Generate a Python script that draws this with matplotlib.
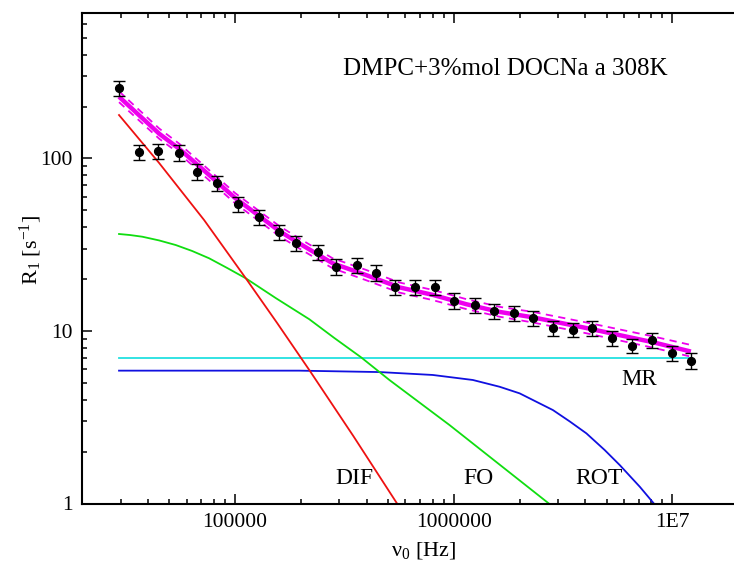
import matplotlib
matplotlib.use("Agg")
import matplotlib.pyplot as plt
from matplotlib.ticker import FixedLocator, FixedFormatter, LogLocator, NullFormatter

plt.rcParams['font.family'] = ['Liberation Serif', 'DejaVu Serif']
plt.rcParams['mathtext.fontset'] = 'custom'
plt.rcParams['mathtext.rm'] = 'Liberation Serif'
plt.rcParams['mathtext.it'] = 'Liberation Serif:italic'

# ---- data ----
freq = [29440, 36300, 44600, 55300, 67100, 83000, 103200, 128800, 157900, 189800,
        238400, 289000, 359800, 440800, 539000, 668000, 816800, 1.0e6, 1.245e6, 1.525e6,
        1.875e6, 2.3e6, 2.84e6, 3.49e6, 4.3e6, 5.31e6, 6.56e6, 8.07e6, 9.9e6, 1.21e7]
r1 = [257, 109.5, 110.6, 108, 83.9, 72.4, 54.5, 45.6, 37.6, 32.2,
      28.8, 23.6, 24.1, 21.8, 17.9, 18.07, 17.9, 15.0, 14.15, 13.1,
      12.7, 11.85, 10.45, 10.2, 10.37, 9.07, 8.22, 8.87, 7.48, 6.73]
r1_err = [26, 11, 11, 11, 8.5, 7.2, 5.5, 4.6, 3.8, 3.2,
          2.9, 2.4, 2.4, 2.2, 1.8, 1.8, 1.8, 1.5, 1.4, 1.3,
          1.3, 1.2, 1.05, 1.0, 1.05, 0.9, 0.8, 0.9, 0.75, 0.68]

fit_x = [29440, 45000, 55400, 70000, 100000, 159100, 196400, 279000, 396900, 564000,
         801000, 1.14e6, 1.62e6, 2.3e6, 4.04e6, 8.16e6, 1.214e7]
fit_y = [228, 139, 114, 88, 59, 38, 32.2, 24.7, 21.1, 17.9,
         16.2, 14.3, 12.9, 12.0, 10.4, 8.6, 7.6]
fit_hi = [245, 149, 122, 94, 63, 40.6, 34.4, 26.4, 22.6, 19.1,
          17.3, 15.3, 13.8, 12.9, 11.2, 9.3, 8.3]
fit_lo = [212, 130, 107, 82, 55, 35.5, 30.1, 23.1, 19.7, 16.7,
          15.1, 13.4, 12.1, 11.2, 9.7, 8.0, 7.1]

dif_x = [29440, 44900, 72100, 111900, 155800, 218300, 347200, 550000]
dif_y = [178.6, 94.2, 44.0, 20.2, 11.1, 5.94, 2.46, 1.0]

fo_x = [29440, 33040, 37620, 44900, 53500, 63560, 76000, 91900, 111900, 153600,
        218300, 284100, 376500, 507500, 955700, 2.72e6]
fo_y = [36.5, 36.0, 35.2, 33.5, 31.5, 29.1, 26.4, 23.2, 20.2, 15.5,
        11.7, 9.11, 7.04, 5.2, 2.85, 1.0]

rot_x = [29440, 196400, 456700, 801000, 1.222e6, 1.62e6, 2.0e6, 2.84e6, 3.39e6,
         4.04e6, 4.9e6, 5.74e6, 7.09e6, 8.22e6]
rot_y = [5.89, 5.89, 5.78, 5.56, 5.2, 4.75, 4.35, 3.48, 2.99,
         2.55, 2.04, 1.67, 1.25, 1.0]

mr_x = [29440, 1.21e7]
mr_y = [7.0, 7.0]

x_ticks = [1e5, 1e6, 1e7]
x_ticklabels = ['100000', '1000000', '1E7']
y_ticks = [1, 10, 100]
y_ticklabels = ['1', '10', '100']

# ---- figure ----
W, H = 734, 567
fig = plt.figure(figsize=(W / 100, H / 100), dpi=100)
ax = fig.add_axes([82.3 / W, (H - 503.5) / H, (738.3 - 82.3) / W, (503.5 - 12.7) / H])
ax.set_xscale('log')
ax.set_yscale('log')

ax.plot(mr_x, mr_y, color='#22e0e0', lw=1.3)
ax.plot(rot_x, rot_y, color='#1010e0', lw=1.3)
ax.plot(fo_x, fo_y, color='#10dd10', lw=1.3)
ax.plot(dif_x, dif_y, color='#ee1111', lw=1.3)
ax.plot(fit_x, fit_hi, color='#ee00ee', lw=1.3, ls=(0, (4, 3)))
ax.plot(fit_x, fit_lo, color='#ee00ee', lw=1.3, ls=(0, (4, 3)))
ax.plot(fit_x, fit_y, color='#ee00ee', lw=3.2, solid_capstyle='butt')
ax.errorbar(freq, r1, yerr=r1_err, fmt='o', color='black', ms=5.6,
            ecolor='black', elinewidth=1.0, capsize=4, capthick=1.0, zorder=5)

ax.set_xlim(2e4, 2e7)
ax.set_ylim(1, 700)

ax.xaxis.set_major_locator(FixedLocator(x_ticks))
ax.xaxis.set_major_formatter(FixedFormatter(x_ticklabels))
ax.xaxis.set_minor_locator(LogLocator(base=10, subs=range(2, 10), numticks=20))
ax.xaxis.set_minor_formatter(NullFormatter())
ax.yaxis.set_major_locator(FixedLocator(y_ticks))
ax.yaxis.set_major_formatter(FixedFormatter(y_ticklabels))
ax.yaxis.set_minor_locator(LogLocator(base=10, subs=range(2, 10), numticks=20))
ax.yaxis.set_minor_formatter(NullFormatter())

ax.tick_params(which='both', direction='in', top=True, right=False, width=1.1)
ax.tick_params(which='major', length=7.2, labelsize=15.5, pad=7)
ax.tick_params(which='minor', length=3.6)
for s in ax.spines.values():
    s.set_linewidth(1.5)

ax.set_xlabel(r'ν$_\mathregular{0}$ [Hz]', fontsize=16)
ax.xaxis.set_label_coords(0.521, -0.075)
ax.set_ylabel(r'R$_\mathregular{1}$ [s$^\mathregular{-1}$]', fontsize=16)
ax.yaxis.set_label_coords(-0.058, 0.516)

fig.text(668 / W, 1 - 75 / H, 'DMPC+3%mol DOCNa a 308K', fontsize=18, ha='right', va='baseline')
fig.text(335 / W, 1 - 484 / H, 'DIF', fontsize=17, va='baseline')
fig.text(463 / W, 1 - 484 / H, 'FO', fontsize=17, va='baseline')
fig.text(575 / W, 1 - 484 / H, 'ROT', fontsize=17, va='baseline')
fig.text(621.7 / W, 1 - 385 / H, 'MR', fontsize=16.5, va='baseline')

fig.savefig('out.png', dpi=100)
